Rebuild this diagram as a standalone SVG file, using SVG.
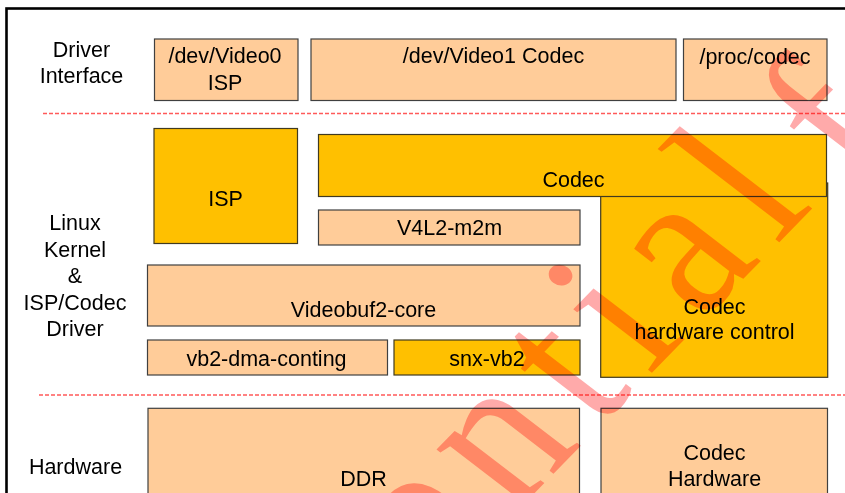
<svg xmlns="http://www.w3.org/2000/svg" width="845" height="493" viewBox="0 0 845 493">
  <style>
    text { font-family: "Liberation Sans", Arial, sans-serif; font-size: 21.5px; fill: #000; text-anchor: middle; }
    .peach { fill: #FFCC99; stroke: #404040; stroke-width: 1.2; }
    .amber { fill: #FFC000; stroke: #403a20; stroke-width: 1.2; }
    .sep { stroke: #FF5a5a; stroke-width: 1.3; stroke-dasharray: 4 2; fill: none; }
    .mark { font-family: "Liberation Serif", "Times New Roman", serif; font-size: 160px; letter-spacing: 16px; fill: #FFAAAA; text-anchor: start; mix-blend-mode: multiply; }
  </style>

  <!-- outer frame, runs off the right and bottom edges -->
  <rect x="6.5" y="8.5" width="900" height="600" fill="#fff" stroke="#000" stroke-width="2.6"/>

  <!-- layer separators -->
  <g id="connectors">
    <line class="sep" x1="43" y1="113.5" x2="845" y2="113.5"/>
    <line class="sep" x1="39" y1="395" x2="845" y2="395"/>
  </g>

  <!-- layer titles -->
  <g id="label-driver-interface">
    <text x="81.5" y="57.3">Driver</text>
    <text x="81.5" y="83.3">Interface</text>
  </g>
  <g id="label-kernel">
    <text x="75" y="230">Linux</text>
    <text x="75" y="256.5">Kernel</text>
    <text x="75" y="283">&amp;</text>
    <text x="75" y="309.5">ISP/Codec</text>
    <text x="75" y="335.5">Driver</text>
  </g>
  <g id="label-hardware">
    <text x="75.5" y="474.3">Hardware</text>
  </g>

  <!-- driver interface layer -->
  <g id="dev-video0">
    <rect class="peach" x="154.5" y="39" width="143.5" height="61.5"/>
    <text x="225" y="63.3">/dev/Video0</text>
    <text x="225" y="90">ISP</text>
  </g>
  <g id="dev-video1">
    <rect class="peach" x="311" y="39" width="365" height="61.5"/>
    <text x="493.5" y="63.3">/dev/Video1 Codec</text>
  </g>
  <g id="proc-codec">
    <rect class="peach" x="683.5" y="39" width="143.5" height="61.5"/>
    <text x="755" y="63.8">/proc/codec</text>
  </g>

  <!-- kernel layer -->
  <g id="isp">
    <rect class="amber" x="154" y="128.5" width="143.5" height="115"/>
    <text x="225.5" y="206">ISP</text>
  </g>
  <g id="codec-hw-control">
    <rect class="amber" x="600.7" y="183" width="227" height="194.3"/>
    <text x="714.5" y="314">Codec</text>
    <text x="714.5" y="339.3">hardware control</text>
  </g>
  <g id="codec">
    <rect class="amber" x="318.5" y="134.5" width="508" height="62"/>
    <text x="573.5" y="186.5">Codec</text>
  </g>
  <g id="v4l2-m2m">
    <rect class="peach" x="318.5" y="210" width="261.5" height="35"/>
    <text x="449.5" y="235">V4L2-m2m</text>
  </g>
  <g id="videobuf2-core">
    <rect class="peach" x="147.5" y="265" width="432.5" height="61"/>
    <text x="363.5" y="317.3">Videobuf2-core</text>
  </g>
  <g id="vb2-dma-conting">
    <rect class="peach" x="147.5" y="340" width="240" height="35"/>
    <text x="266.5" y="365.5">vb2-dma-conting</text>
  </g>
  <g id="snx-vb2">
    <rect class="amber" x="394" y="340" width="186" height="35"/>
    <text x="487" y="365.5">snx-vb2</text>
  </g>

  <!-- hardware layer -->
  <g id="ddr">
    <rect class="peach" x="148" y="408.3" width="431.5" height="200"/>
    <text x="363.5" y="486">DDR</text>
  </g>
  <g id="codec-hardware">
    <rect class="peach" x="601" y="408.3" width="226.5" height="200"/>
    <text x="714.5" y="460">Codec</text>
    <text x="714.5" y="486">Hardware</text>
  </g>

  <!-- document watermark -->
  <g id="watermark">
    <text class="mark" transform="matrix(0.865 -0.887 1.095 0.84 -29 1071)">Confidential</text>
    <text class="mark" transform="matrix(0.865 -0.887 1.095 0.84 863 190)">f</text>
  </g>
</svg>
